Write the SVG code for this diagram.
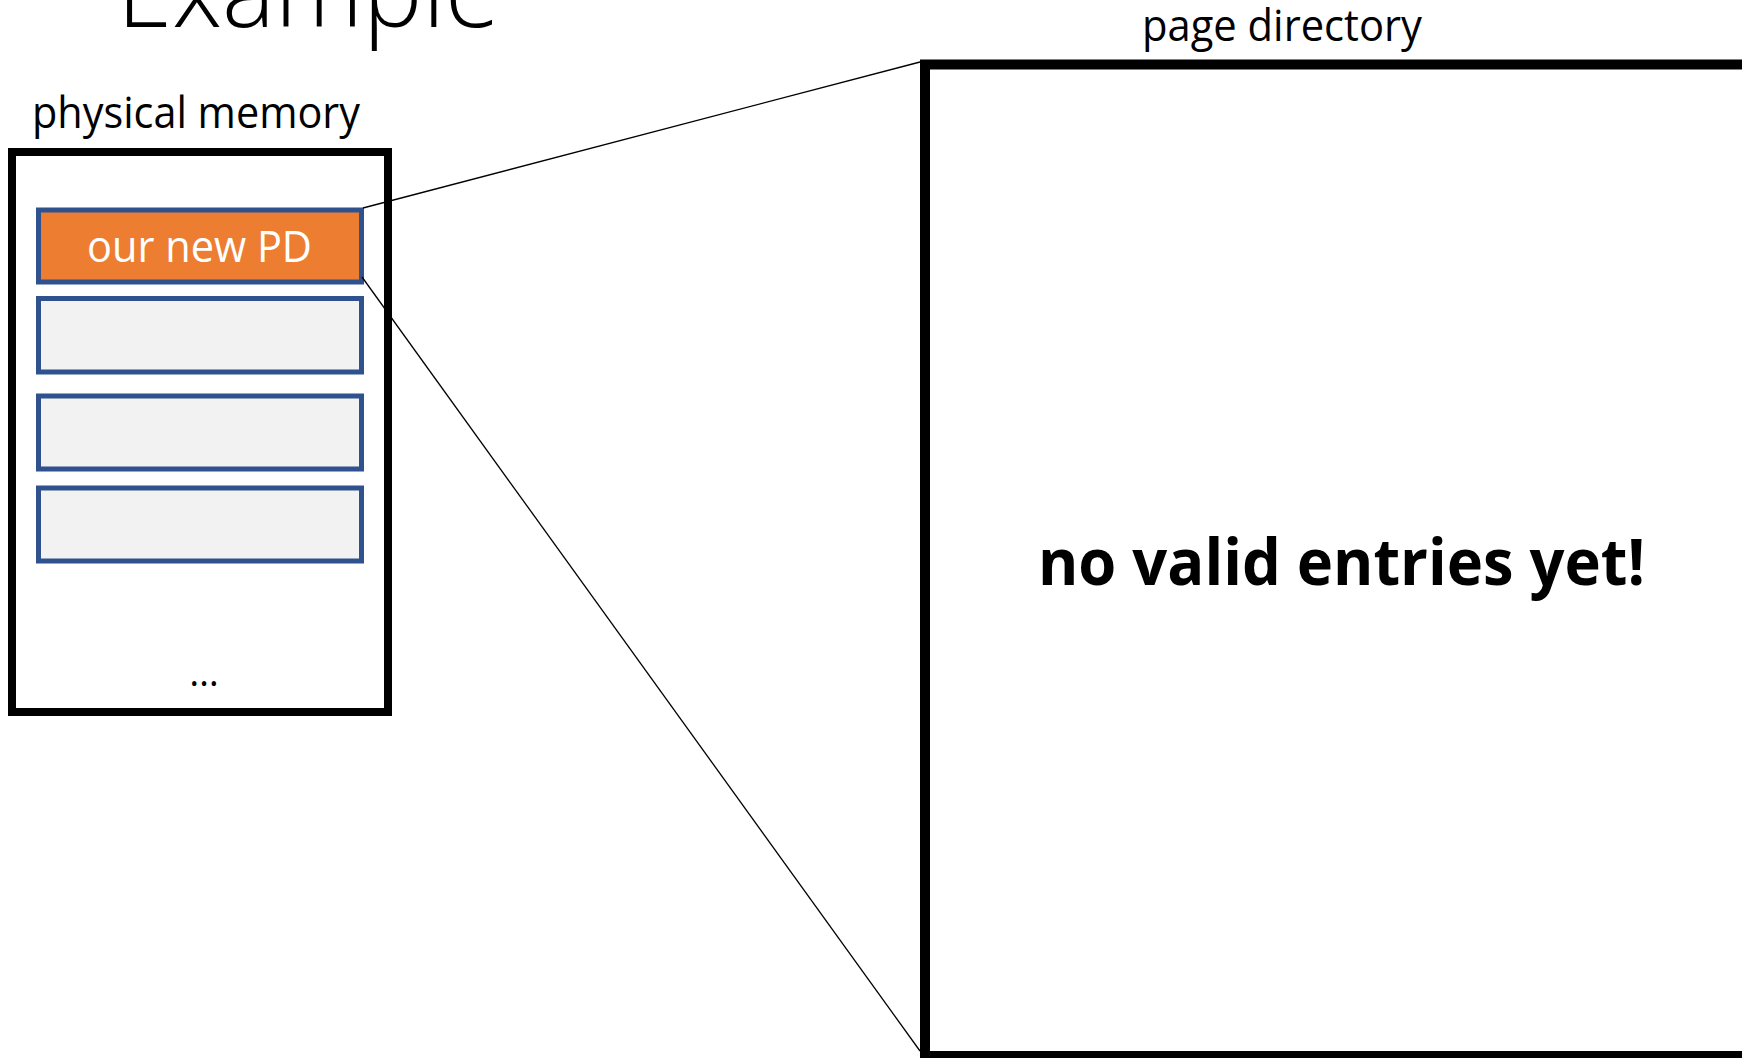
<svg xmlns="http://www.w3.org/2000/svg" width="1742" height="1058" viewBox="0 0 1742 1058">
  <style>
    text { font-family: "Open Sans", "Liberation Sans", sans-serif; fill: #000; }
    .frame { fill: #fff; stroke: #000; stroke-width: 8; }
    .pd-frame { fill: #fff; stroke: #000; stroke-width: 10; }
    .slot { fill: #F2F2F2; stroke: #2F528F; stroke-width: 5; }
    .slot-new { fill: #ED7D31; stroke: #2F528F; stroke-width: 5; }
    .label { font-size: 43px; }
    .link { stroke: #000; stroke-width: 1.3; fill: none; }
  </style>

  <!-- slide title, clipped by the top edge -->
  <text x="117" y="27" font-size="104" font-weight="300" textLength="383" lengthAdjust="spacingAndGlyphs">Example</text>

  <!-- physical memory column -->
  <g id="physical-memory">
    <text class="label" x="32" y="128" textLength="328" lengthAdjust="spacingAndGlyphs">physical memory</text>
    <rect class="frame" x="12" y="152" width="376" height="560"/>
    <text x="204" y="686" font-size="38" text-anchor="middle">…</text>
  </g>

  <g id="frame-pd">
    <rect class="slot-new" x="38.5" y="210" width="323" height="72"/>
    <text x="87" y="262" font-size="43" style="fill:#fff" textLength="225" lengthAdjust="spacingAndGlyphs">our new PD</text>
  </g>
  <g id="frame-2">
    <rect class="slot" x="38.5" y="298.5" width="323" height="73.5"/>
  </g>
  <g id="frame-3">
    <rect class="slot" x="38.5" y="396" width="323" height="73"/>
  </g>
  <g id="frame-4">
    <rect class="slot" x="38.5" y="488" width="323" height="73"/>
  </g>

  <!-- enlarged view of the page directory -->
  <g id="page-directory">
    <text class="label" x="1142" y="41" textLength="280" lengthAdjust="spacingAndGlyphs">page directory</text>
    <rect class="pd-frame" x="925" y="64.5" width="900" height="991.5"/>
    <text x="1038" y="585" font-size="65" font-weight="bold" textLength="607" lengthAdjust="spacingAndGlyphs">no valid entries yet!</text>
  </g>

  <!-- zoom lines from the frame to its expanded view -->
  <g id="connectors">
    <line class="link" x1="363" y1="208" x2="920" y2="62"/>
    <line class="link" x1="362" y1="277" x2="920" y2="1051"/>
  </g>
</svg>
